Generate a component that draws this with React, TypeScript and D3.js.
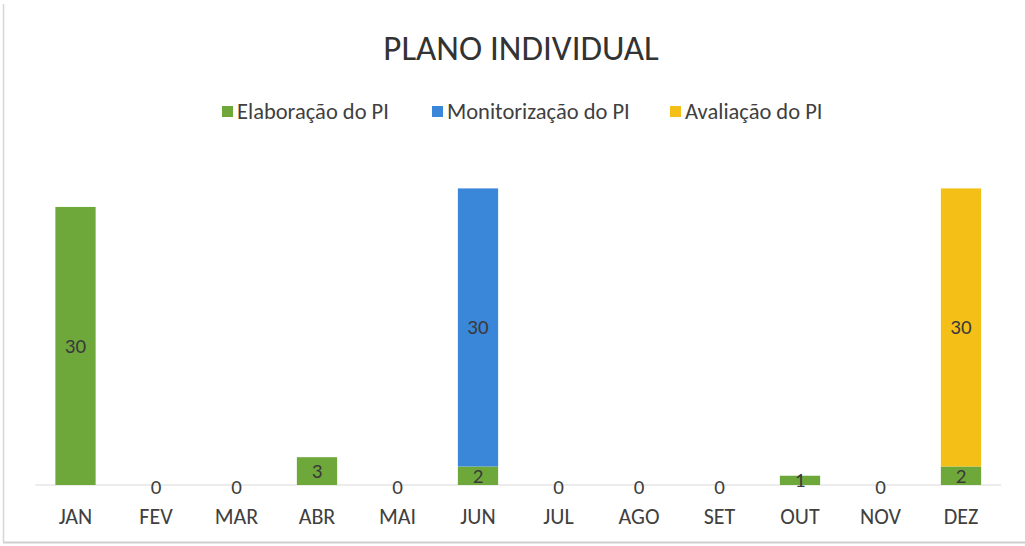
import React from "react";
import * as d3 from "d3";

const months = ["JAN", "FEV", "MAR", "ABR", "MAI", "JUN", "JUL", "AGO", "SET", "OUT", "NOV", "DEZ"];
const elaboracao = [30, 0, 0, 3, 0, 2, 0, 0, 0, 1, 0, 2];
const monitorizacao = [0, 0, 0, 0, 0, 30, 0, 0, 0, 0, 0, 0];
const avaliacao = [0, 0, 0, 0, 0, 0, 0, 0, 0, 0, 0, 30];
const seriesNames = ["Elaboração do PI", "Monitorização do PI", "Avaliação do PI"];
const seriesKeys = ["elab", "moni", "aval"];
const colors = ["#6FA83A", "#3A86D8", "#F4C017"];
const title = "PLANO INDIVIDUAL";

const W = 1025;
const H = 546;
const FONT = "Carlito, Calibri, Lato, 'Open Sans', sans-serif";

export default function App() {
  const rows = months.map((m, i) => ({
    month: m,
    elab: elaboracao[i],
    moni: monitorizacao[i],
    aval: avaliacao[i],
  }));
  const stacked = d3.stack<any>().keys(seriesKeys)(rows);
  const x = d3.scaleBand<string>().domain(months).range([35.25, 1001.25]).paddingInner(0.5).paddingOuter(0.25);
  const y = d3.scaleLinear().domain([0, 35]).range([485, 160.6]);
  const totals = rows.map((r) => r.elab + r.moni + r.aval);

  const legendX = [222, 432, 670];

  return (
    <svg width={W} height={H} style={{ position: "absolute", left: 0, top: 0, background: "#fff" }} fontFamily={FONT}>
      <rect x={0} y={0} width={W} height={H} fill="#fff" />
      <line x1={3.5} y1={4} x2={3.5} y2={542} stroke="#d6d6d6" strokeWidth={1.5} />
      <line x1={3} y1={542.5} x2={W} y2={542.5} stroke="#cfcfcf" strokeWidth={2} />
      <text x={521} y={60} textAnchor="middle" fontSize={35} fill="#333">{title}</text>
      {seriesNames.map((n, i) => (
        <g key={n}>
          <rect x={legendX[i]} y={106} width={11} height={11} fill={colors[i]} />
          <text x={legendX[i] + 15} y={119} fontSize={22.5} fill="#404040">{n}</text>
        </g>
      ))}
      <line x1={x.range()[0]} x2={x.range()[1]} y1={y(0)} y2={y(0)} stroke="#d9d9d9" strokeWidth={1} />
      {stacked.map((s, si) => (
        <g key={s.key} fill={colors[si]}>
          {s.map((d, i) =>
            d[1] - d[0] > 0 ? (
              <rect key={i} x={x(months[i])} y={y(d[1])} width={x.bandwidth()} height={y(d[0]) - y(d[1])} />
            ) : null
          )}
        </g>
      ))}
      {stacked.map((s, si) =>
        s.map((d, i) =>
          d[1] - d[0] > 0 ? (
            <text
              key={s.key + i}
              x={(x(months[i]) as number) + x.bandwidth() / 2}
              y={(y(d[0]) + y(d[1])) / 2 + 7}
              textAnchor="middle"
              fontSize={21}
              fill="#3a3a3a"
            >
              {d[1] - d[0]}
            </text>
          ) : null
        )
      )}
      {totals.map((t, i) =>
        t === 0 ? (
          <text key={"z" + i} x={(x(months[i]) as number) + x.bandwidth() / 2} y={y(0) + 9} textAnchor="middle" fontSize={21} fill="#404040">
            0
          </text>
        ) : null
      )}
      {months.map((m) => (
        <text key={m} x={(x(m) as number) + x.bandwidth() / 2} y={524} textAnchor="middle" fontSize={22} fill="#404040">
          {m}
        </text>
      ))}
    </svg>
  );
}
